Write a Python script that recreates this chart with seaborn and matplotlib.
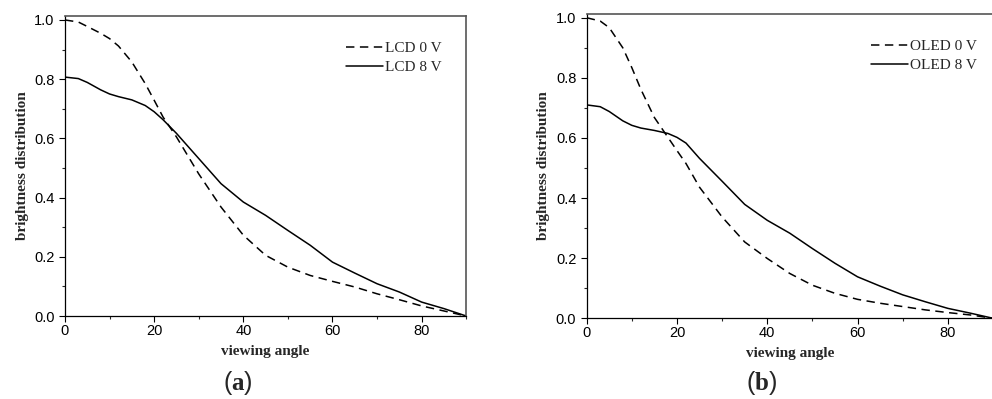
import matplotlib
matplotlib.use("Agg")
import matplotlib.pyplot as plt
import seaborn as sns
import pandas as pd

angle = [0, 3, 5, 8, 10, 12, 15, 18, 20, 22, 25, 30, 35, 40, 45, 50,
         55, 60, 65, 70, 75, 80, 85, 90]

# (a) LCD
lcd_0v = [1.000, 0.993, 0.978, 0.955, 0.937, 0.912, 0.858, 0.785, 0.729, 0.672,
          0.605, 0.480, 0.368, 0.273, 0.205, 0.165, 0.137, 0.117, 0.098, 0.075,
          0.055, 0.034, 0.017, 0.000]
lcd_8v = [0.807, 0.802, 0.789, 0.764, 0.750, 0.741, 0.730, 0.711, 0.690, 0.663,
          0.617, 0.532, 0.447, 0.385, 0.340, 0.289, 0.239, 0.182, 0.145, 0.109,
          0.081, 0.047, 0.025, 0.000]

# (b) OLED
oled_0v = [1.000, 0.989, 0.967, 0.900, 0.834, 0.762, 0.668, 0.602, 0.558, 0.515,
           0.436, 0.337, 0.254, 0.199, 0.149, 0.110, 0.083, 0.063, 0.050, 0.039,
           0.028, 0.019, 0.011, 0.000]
oled_8v = [0.710, 0.704, 0.688, 0.657, 0.642, 0.633, 0.625, 0.615, 0.602, 0.583,
           0.532, 0.456, 0.379, 0.326, 0.283, 0.232, 0.183, 0.138, 0.107, 0.078,
           0.055, 0.033, 0.017, 0.000]

x_ticks = [0, 20, 40, 60, 80]
y_ticks = [0.0, 0.2, 0.4, 0.6, 0.8, 1.0]

sns.set_style("ticks")
plt.rcParams["font.family"] = ["Liberation Sans", "DejaVu Sans"]
plt.rcParams["mathtext.fontset"] = "custom"
plt.rcParams["mathtext.rm"] = "Liberation Serif"
plt.rcParams["mathtext.bf"] = "Liberation Serif:bold"

fig = plt.figure(figsize=(9.92, 3.99), dpi=100)
ax_a = fig.add_axes([0.0655, 0.208, 0.4045, 0.752])
ax_b = fig.add_axes([0.5914, 0.2023, 0.4096, 0.7634])

panels = [
    (ax_a, lcd_0v, lcd_8v, "LCD", 0.915, r"($\mathbf{a}$)", 238),
    (ax_b, oled_0v, oled_8v, "OLED", 0.915, r"($\mathbf{b}$)", 762),
]

for ax, v0, v8, name, leg_y, tag, tag_x in panels:
    df = pd.DataFrame({"angle": angle, "v0": v0, "v8": v8})
    sns.lineplot(data=df, x="angle", y="v0", ax=ax, color="black", lw=1.1,
                 linestyle=(0, (5.5, 3.6)), label=f"{name} 0 V")
    sns.lineplot(data=df, x="angle", y="v8", ax=ax, color="black", lw=1.1,
                 label=f"{name} 8 V")

    ax.set_xlim(0, 90)
    ax.set_ylim(0, 1.0135)
    ax.set_xticks(x_ticks)
    ax.set_xticks([10, 30, 50, 70, 90], minor=True)
    ax.set_yticks(y_ticks)
    ax.set_yticks([0.1, 0.3, 0.5, 0.7, 0.9], minor=True)
    ax.set_yticklabels([f"{v:.1f}" for v in y_ticks])
    ax.tick_params(axis="both", which="major", direction="out", length=4,
                   width=0.8, labelsize=10.5, colors="black")
    ax.tick_params(axis="both", which="minor", direction="out", length=2.2,
                   width=0.8)
    ax.tick_params(axis="y", which="major", pad=3.5)
    ax.tick_params(axis="x", which="major", pad=1.5)

    for side in ["left", "bottom"]:
        ax.spines[side].set_color("black")
        ax.spines[side].set_linewidth(0.9)
    for side in ["top", "right"]:
        ax.spines[side].set_visible(True)
        ax.spines[side].set_color("#555555")
        ax.spines[side].set_linewidth(1.2)

    ax.set_xlabel("viewing angle", family="Liberation Serif", weight="bold",
                  fontsize=11, labelpad=5)
    ax.set_ylabel("brightness distribution", family="Liberation Serif",
                  weight="bold", fontsize=11, labelpad=4)

    leg = ax.legend(loc="upper left", bbox_to_anchor=(0.70, leg_y),
                    frameon=False, borderpad=0, borderaxespad=0,
                    handlelength=2.4, handletextpad=0.15, labelspacing=0.35,
                    prop={"family": "Liberation Serif", "size": 11})

    fig.text(tag_x / 992, 1 - 383 / 399, tag, ha="center", va="center",
             fontsize=18)

ax_b.spines["right"].set_visible(False)

fig.savefig("out.png", dpi=100)
